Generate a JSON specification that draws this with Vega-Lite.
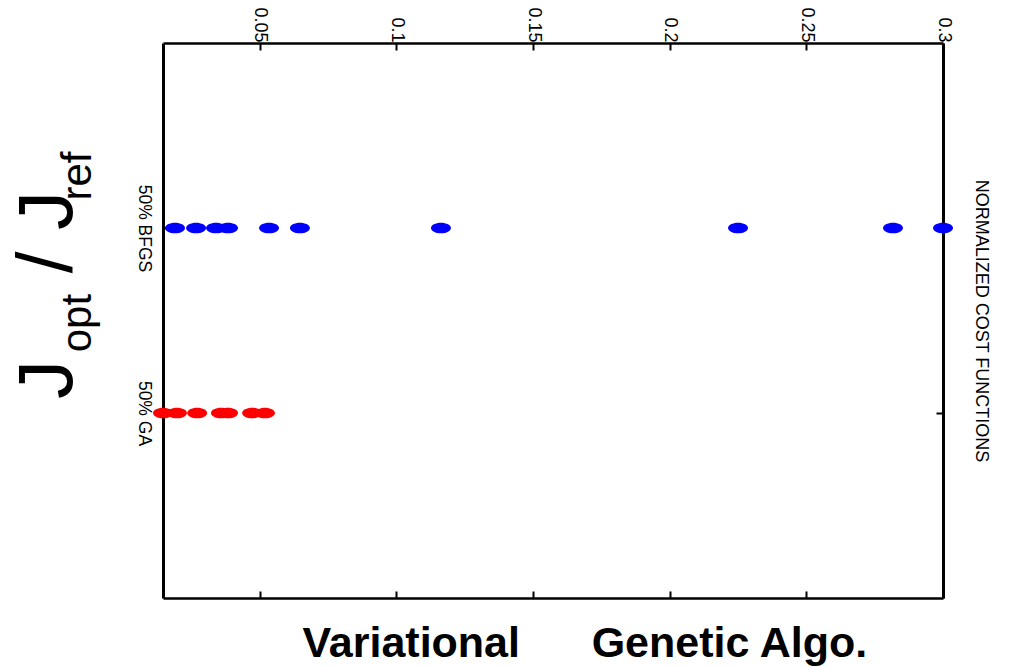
{
  "$schema": "https://vega.github.io/schema/vega-lite/v6.json",
  "width": 780,
  "height": 555,
  "autosize": {"type": "none"},
  "padding": {"left": 163, "top": 43, "right": 69, "bottom": 69},
  "background": "white",
  "config": {
    "view": {"stroke": null},
    "font": "Liberation Sans",
    "axis": {
      "grid": false,
      "domainColor": "black",
      "tickColor": "black",
      "labelColor": "black",
      "titleColor": "black",
      "domainWidth": 2.5,
      "tickWidth": 2,
      "tickSize": -7
    }
  },
  "title": {
    "text": "J\u00a0\u00a0\u00a0\u00a0/\u00a0J",
    "subtitle": "\u200b\u00a0\u00a0\u00a0\u00a0opt\u00a0\u00a0\u00a0\u00a0\u00a0\u00a0\u00a0\u00a0ref",
    "orient": "left",
    "anchor": "start",
    "frame": "group",
    "font": "Liberation Sans",
    "fontSize": 78,
    "fontWeight": "normal",
    "color": "black",
    "subtitleFont": "Liberation Sans",
    "subtitleFontSize": 42,
    "subtitleColor": "black",
    "subtitlePadding": -30,
    "dx": 199,
    "offset": 36
  },
  "data": {
    "values": [
      {"method": "50% BFGS", "cost": 0.0190},
      {"method": "50% BFGS", "cost": 0.0267},
      {"method": "50% BFGS", "cost": 0.0340},
      {"method": "50% BFGS", "cost": 0.0384},
      {"method": "50% BFGS", "cost": 0.0534},
      {"method": "50% BFGS", "cost": 0.0647},
      {"method": "50% BFGS", "cost": 0.1163},
      {"method": "50% BFGS", "cost": 0.2250},
      {"method": "50% BFGS", "cost": 0.2817},
      {"method": "50% BFGS", "cost": 0.3000},
      {"method": "50% GA", "cost": 0.0146},
      {"method": "50% GA", "cost": 0.0197},
      {"method": "50% GA", "cost": 0.0271},
      {"method": "50% GA", "cost": 0.0358},
      {"method": "50% GA", "cost": 0.0384},
      {"method": "50% GA", "cost": 0.0472},
      {"method": "50% GA", "cost": 0.0519}
    ]
  },
  "layer": [
    {
      "transform": [{"filter": "datum.method === '50% BFGS'"}],
      "mark": {
        "type": "point",
        "filled": true,
        "shape": "M-1,0A1,0.53,0,1,1,1,0A1,0.53,0,1,1,-1,0Z",
        "size": 400,
        "opacity": 1,
        "color": "#0000ff",
        "strokeWidth": 0,
        "clip": false
      },
      "encoding": {
        "x": {
          "field": "cost",
          "type": "quantitative",
          "scale": {"domain": [0.0146, 0.3], "nice": false, "zero": false},
          "axis": {
            "orient": "top",
            "title": null,
            "values": [0.05, 0.1, 0.15, 0.2, 0.25, 0.3],
            "format": "~g",
            "labelAngle": 90,
            "labelAlign": "right",
            "labelBaseline": "middle",
            "labelFont": "Liberation Sans",
            "labelFontSize": 18,
            "labelPadding": 8,
            "labelFlush": false,
            "labelOverlap": false
          }
        },
        "y": {
          "field": "method",
          "type": "nominal",
          "scale": {"padding": 1},
          "axis": {
            "orient": "left",
            "title": null,
            "labelAngle": 90,
            "labelAlign": "center",
            "labelBaseline": "top",
            "labelFont": "Liberation Sans",
            "labelFontSize": 17.5,
            "labelPadding": 18,
            "domainWidth": 3
          }
        }
      }
    },
    {
      "transform": [{"filter": "datum.method === '50% GA'"}],
      "mark": {
        "type": "point",
        "filled": true,
        "shape": "M-1,0A1,0.53,0,1,1,1,0A1,0.53,0,1,1,-1,0Z",
        "size": 400,
        "opacity": 1,
        "color": "#ff0000",
        "strokeWidth": 0,
        "clip": false
      },
      "encoding": {
        "x": {
          "field": "cost",
          "type": "quantitative",
          "axis": {
            "orient": "bottom",
            "values": [0.05, 0.1, 0.15, 0.2, 0.25, 0.3],
            "labels": false,
            "title": "Variational\u00a0\u00a0\u00a0\u00a0\u00a0\u00a0Genetic Algo.",
            "titleFont": "Liberation Sans",
            "titleFontWeight": "bold",
            "titleFontSize": 43,
            "titleAlign": "left",
            "titleBaseline": "alphabetic",
            "titleX": 139,
            "titleY": 58
          }
        },
        "y": {
          "field": "method",
          "type": "nominal",
          "axis": {
            "orient": "right",
            "labels": false,
            "title": "NORMALIZED COST FUNCTIONS",
            "titleFont": "Liberation Sans",
            "titleFontSize": 18,
            "titleFontWeight": "normal",
            "titleAngle": 90,
            "titleAlign": "center",
            "titleBaseline": "alphabetic",
            "titleX": 32,
            "titleY": 277.5,
            "domainWidth": 3
          }
        }
      }
    }
  ],
  "resolve": {"axis": {"x": "independent", "y": "independent"}}
}
